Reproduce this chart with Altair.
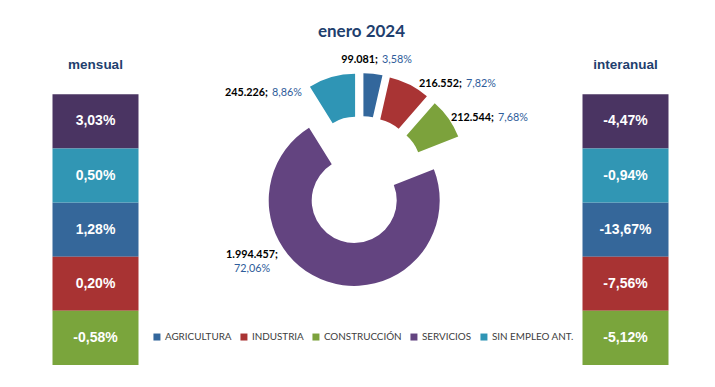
import altair as alt
import pandas as pd

# ---------------- data ----------------
CATEGORIES = ["AGRICULTURA", "INDUSTRIA", "CONSTRUCCIÓN", "SERVICIOS", "SIN EMPLEO ANT."]
PARADOS = [99081, 216552, 212544, 1994457, 245226]
MENSUAL = [1.28, 0.20, -0.58, 3.03, 0.50]
INTERANUAL = [-13.67, -7.56, -5.12, -4.47, -0.94]
TABLE_ORDER = ["SERVICIOS", "SIN EMPLEO ANT.", "AGRICULTURA", "INDUSTRIA", "CONSTRUCCIÓN"]
TITLE = "enero 2024"
HEAD_LEFT = "mensual"
HEAD_RIGHT = "interanual"

# ---------------- styles / layout ----------------
PIE_COLORS = ["#33679C", "#A93434", "#7CA23C", "#634480", "#2F95B5"]
TABLE_COLORS = ["#35679A", "#A83333", "#7AA53C", "#4A3462", "#3196B4"]
DARK_BLUE = "#1F3F6E"
PCT_BLUE = "#2E5C9A"

CX, CY = 353, 122          # pie centre (chart pixels)
EXPLODE = 21.5             # slice explosion distance
R_IN, R_OUT = 42.5, 85.5
LABEL_DX = [19, 103, 135, -109, -91]     # label junction offsets from pie centre
LABEL_DY = [-120, -96, -62, 82, -87]
LABEL_TWO_LINE = [0, 0, 0, 1, 0]

TABLE_Y_RANGE = [36.3, 307]
LEFT_X = (44.5, 130.5)
RIGHT_X = (574.5, 660.5)


def es_int(v):
    return f"{v:,}".replace(",", ".")


def es_pct(v):
    return f"{v:.2f}".replace(".", ",") + "%"


total = sum(PARADOS)
pie_df = pd.DataFrame({
    "cat": CATEGORIES,
    "value": PARADOS,
    "order": list(range(len(CATEGORIES))),
    "num_label": [es_int(v) + ";" for v in PARADOS],
    "pct_label": [es_pct(100 * v / total) for v in PARADOS],
})
table_df = pd.DataFrame({
    "tcat": CATEGORIES,
    "order": list(range(len(CATEGORIES))),
    "mensual": [es_pct(v) for v in MENSUAL],
    "interanual": [es_pct(v) for v in INTERANUAL],
})


def arr(xs):
    return "[" + ",".join(repr(x) if isinstance(x, str) else str(x) for x in xs) + "]"


base = (
    alt.Chart(pie_df)
    .transform_joinaggregate(total="sum(value)")
    .transform_window(cum="sum(value)", sort=[alt.SortField("order")])
    .transform_calculate(
        t1="2*PI*datum.cum/datum.total",
        t0="2*PI*(datum.cum-datum.value)/datum.total",
    )
    .transform_calculate(
        mid="(datum.t0+datum.t1)/2",
    )
    .transform_calculate(
        cx=f"{CX}+{EXPLODE}*sin(datum.mid)",
        cy=f"{CY}-{EXPLODE}*cos(datum.mid)",
        jx=f"{CX}+{arr(LABEL_DX)}[datum.order]",
        jy=f"{CY}+{arr(LABEL_DY)}[datum.order]",
        two=f"{arr(LABEL_TWO_LINE)}[datum.order]",
    )
)

arcs = base.mark_arc(innerRadius=R_IN, outerRadius=R_OUT).encode(
    theta=alt.Theta("t0:Q", scale=None, stack=None),
    theta2="t1:Q",
    x=alt.X("cx:Q", scale=None, axis=None),
    y=alt.Y("cy:Q", scale=None, axis=None),
    color=alt.Color(
        "cat:N",
        sort=CATEGORIES,
        scale=alt.Scale(domain=CATEGORIES, range=PIE_COLORS),
        legend=alt.Legend(
            orient="none", legendX=144, legendY=274, direction="horizontal",
            title=None, symbolType="square", symbolSize=49, symbolStrokeWidth=0,
            labelFont="Lato", labelFontSize=9.9, labelColor="#404040",
            columnPadding=7, labelOffset=3,
        ),
    ),
)

lx = alt.X("jx:Q", scale=None, axis=None)
ly = alt.Y("jy:Q", scale=None, axis=None)
num_style = dict(font="Lato", fontSize=10.8, fontWeight="bold", color="#000000", baseline="middle")
pct_style = dict(font="Lato", fontSize=10.8, fontWeight="normal", color=PCT_BLUE, baseline="middle")

one = base.transform_filter("datum.two == 0")
num1 = one.mark_text(align="right", dx=-2, **num_style).encode(x=lx, y=ly, text="num_label:N")
pct1 = one.mark_text(align="left", dx=2, **pct_style).encode(x=lx, y=ly, text="pct_label:N")
two = base.transform_filter("datum.two == 1")
num2 = two.mark_text(align="center", dy=-7, **num_style).encode(x=lx, y=ly, text="num_label:N")
pct2 = two.mark_text(align="center", dy=7, **pct_style).encode(x=lx, y=ly, text="pct_label:N")

# ---------------- side tables ----------------
tbase = alt.Chart(table_df).transform_calculate(tcolor=f"{arr(TABLE_COLORS)}[datum.order]")
y_band = alt.Y(
    "tcat:N", sort=TABLE_ORDER, axis=None,
    scale=alt.Scale(range=TABLE_Y_RANGE, paddingInner=0, paddingOuter=0),
)
cell_text = dict(font="Liberation Sans", fontSize=14, fontWeight="bold", color="white", baseline="middle")


def table(col, xr):
    rect = tbase.mark_rect().encode(
        y=y_band, x=alt.value(xr[0]), x2=alt.value(xr[1]),
        fill=alt.Fill("tcolor:N", scale=None),
    )
    txt = tbase.mark_text(**cell_text).encode(
        y=y_band, x=alt.value((xr[0] + xr[1]) / 2), text=f"{col}:N"
    )
    return rect, txt


lrect, ltxt = table("mensual", LEFT_X)
rrect, rtxt = table("interanual", RIGHT_X)

head_style = dict(font="Liberation Sans", fontSize=13.5, fontWeight="bold", color=DARK_BLUE, baseline="middle")
one_row = alt.Data(values=[{}])
hl = alt.Chart(one_row).mark_text(text=HEAD_LEFT, **head_style).encode(
    x=alt.value((LEFT_X[0] + LEFT_X[1]) / 2), y=alt.value(7)
)
hr = alt.Chart(one_row).mark_text(text=HEAD_RIGHT, **head_style).encode(
    x=alt.value((RIGHT_X[0] + RIGHT_X[1]) / 2), y=alt.value(7)
)

chart = (
    alt.layer(arcs, lrect, ltxt, rrect, rtxt, hl, hr, num1, pct1, num2, pct2)
    .properties(
        width=699,
        height=321,
        background="white",
        autosize=alt.AutoSizeParams(type="none"),
        padding={"left": 0, "top": 50, "right": 0, "bottom": 0},
        title=alt.TitleParams(
            TITLE, font="Lato", fontSize=17, fontWeight="bold", color=DARK_BLUE,
            anchor="middle", frame="group", offset=13, dx=4,
        ),
    )
    .configure_view(strokeWidth=0)
)

chart.save("out.html", embed_options={"renderer": "svg", "actions": False})
